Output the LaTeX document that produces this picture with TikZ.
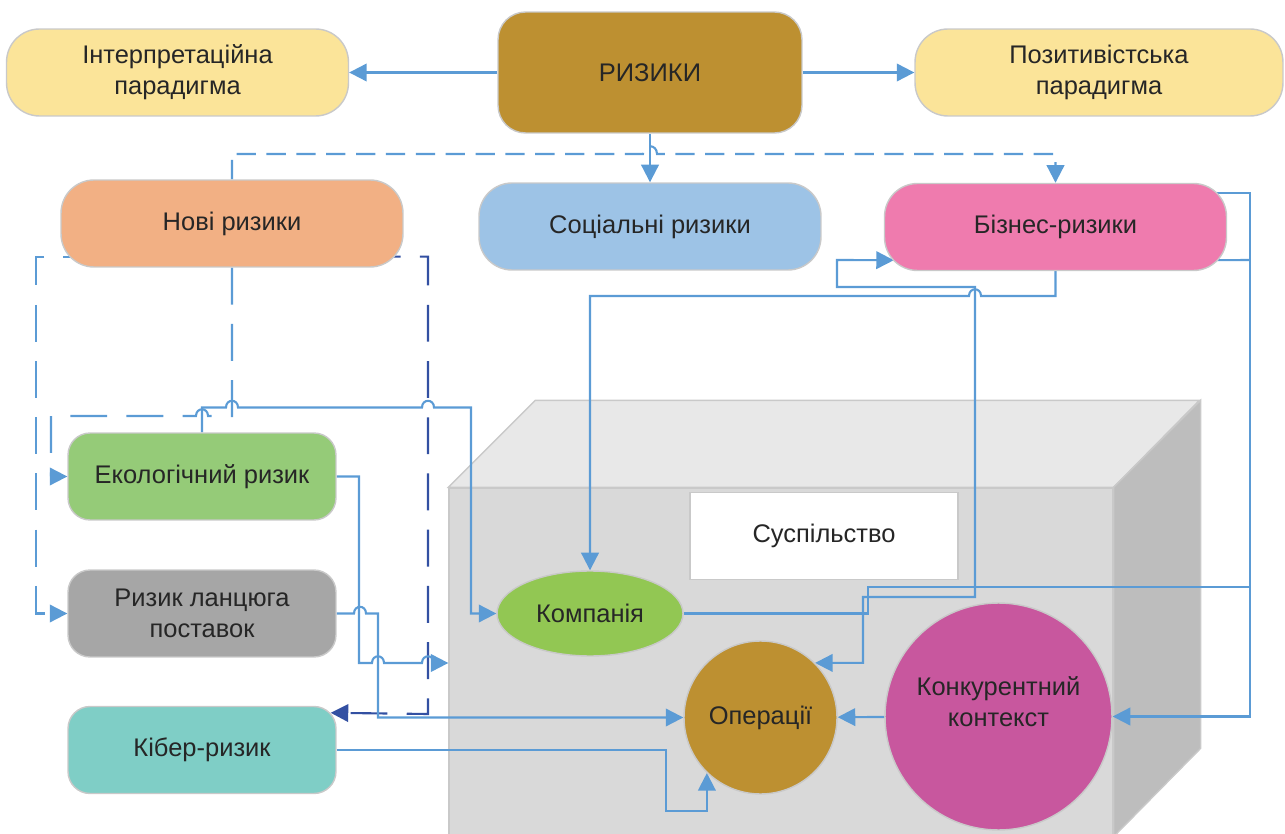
\documentclass[tikz,border=0pt]{standalone}
\usepackage{fontspec}
\setmainfont{Liberation Sans}
\usetikzlibrary{arrows.meta,calc,shapes.geometric}
\pgfdeclarelayer{back}
\pgfsetlayers{back,main}
\definecolor{Ink}{HTML}{262626}
\definecolor{Frame}{HTML}{C9C9C9}
\definecolor{Paradigm}{HTML}{FBE499}
\definecolor{Gold}{HTML}{BD9031}
\definecolor{Peach}{HTML}{F2B084}
\definecolor{Sky}{HTML}{9DC3E6}
\definecolor{Rose}{HTML}{EF7BAE}
\definecolor{Leaf}{HTML}{95CB78}
\definecolor{Ash}{HTML}{A6A6A6}
\definecolor{CyberTeal}{HTML}{7FCEC6}
\definecolor{Lime}{HTML}{92C753}
\definecolor{Plum}{HTML}{C8579E}
\definecolor{Wire}{HTML}{5B9BD5}
\definecolor{WireDark}{HTML}{3350A2}
\definecolor{CubeTop}{HTML}{E8E8E8}
\definecolor{CubeFront}{HTML}{D9D9D9}
\definecolor{CubeSide}{HTML}{BDBDBD}

\begin{document}
\begin{tikzpicture}[x=0.02cm,y=-0.02cm,font=\fontsize{14.5}{17.5}\selectfont,
      pill/.style={rounded corners=0.66cm,draw=Frame,line width=0.8pt,text=Ink,
                   align=center,minimum width=6.84cm,minimum height=1.74cm},
      tile/.style={pill,rounded corners=0.44cm,minimum width=5.36cm},
      hub/.style={circle,draw=Frame,line width=0.8pt,text=Ink,align=center,inner sep=1pt},
      wire/.style={draw=Wire,line width=1.2pt},
      link/.style={wire,-{Triangle[length=10pt,width=10pt]}},
      dashlong/.style={dash pattern=on 21pt off 11pt},
      dashshort/.style={dash pattern=on 11pt off 6pt},
      hop/.style={out=90,in=90,looseness=1.9}]
    \useasboundingbox (0,0) rectangle (1285,834);
    \clip (0,0) rectangle (1285,834);

    % society cube
    \begin{pgfonlayer}{back}
      \node[draw=Frame,fill=CubeFront,line width=0.8pt,
            minimum width=13.28cm,minimum height=6.96cm] (cube) at (781,662) {};
      \draw[draw=Frame,fill=CubeTop,line width=0.8pt]
        (cube.north west) -- ++(87,-87) -- ++(664,0) -- (cube.north east) -- cycle;
      \draw[draw=Frame,fill=CubeSide,line width=0.8pt]
        (cube.north east) -- ++(87,-87) -- ++(0,348) -- (cube.south east) -- cycle;
    \end{pgfonlayer}

    \node[pill,fill=Paradigm] (interp) at (177.5,72.5) {Інтерпретаційна\\парадигма};
    \node[pill,fill=Gold,minimum width=6.08cm,minimum height=2.42cm,
          rounded corners=0.55cm] (risks) at (650,72.5) {РИЗИКИ};
    \node[pill,fill=Paradigm,minimum width=7.36cm] (posit) at (1099,72.5)
      {Позитивістська\\парадигма};
    \node[pill,fill=Peach] (newr) at (232,223.5) {Нові ризики};
    \node[pill,fill=Sky] (social) at (650,226.5) {Соціальні ризики};
    \node[pill,fill=Rose] (business) at (1055.5,227) {Бізнес-ризики};

    \foreach \n/\y/\c/\t in {eco/476.5/Leaf/{Екологічний ризик},
        supply/613.5/Ash/{Ризик ланцюга\\поставок},cyber/750/CyberTeal/{Кібер-ризик}}{%
      \node[tile,fill=\c] (\n) at (202,\y) {\t};
    }

    \node[draw=Frame,line width=0.8pt,fill=white,text=Ink,minimum width=5.36cm,
          minimum height=1.74cm] (society) at (824,536) {Суспільство};
    \node[ellipse,draw=Frame,line width=0.8pt,fill=Lime,text=Ink,inner sep=0pt,
          minimum width=3.72cm,minimum height=1.7cm] (company) at (590,613.5) {Компанія};
    \node[hub,fill=Gold,minimum size=3.06cm] (ops) at (760.5,717.5) {Операції};
    \node[hub,fill=Plum,minimum size=4.54cm,
          label={[align=center,text=Ink,yshift=8.5pt]center:Конкурентний\\контекст}]
      (compet) at (998.5,716.5) {};

    \begin{pgfonlayer}{back}
      \draw[link] (risks) -- (interp);
      \draw[link] (risks) -- (posit);
      \draw[link] (risks) -- (social);
      \draw[link,dashshort] (newr.north) |- (643,154) to[hop] (657,154)
        -| (business.north);

      % dashed links of the new risks
      \draw[link,dashlong] ($(newr.south west)+(40,-11)$) -| (36,613.5) -- (supply.west);
      \draw[link,dashlong] (newr.south) |- (208,416) to[hop] (196,416)
        -| (51,476.5) -- (eco.west);
      \draw[link,dashlong,draw=WireDark] ($(newr.south east)+(-40,-11)$)
        -| (428,714) -- ($(cyber.north east)+(-6,7)$);

      \draw[link] (eco.north) |- (226,407.5) to[hop] (238,407.5) -- (422,407.5)
        to[hop] (434,407.5) -| (471,613.5) -- (company.west);
      \draw[link] (eco.east) -| (359,663) -- (372,663) to[hop] (384,663)
        -- (422,663) to[hop] (434,663) -- (cube.west |- 0,663);
      \draw[link] (supply.east) -- (354,613.5) to[hop] (366,613.5)
        -| (378,717.5) -- (ops.west);
      \draw[link] (cyber.east) -| (666,811) -| (ops.226);

      \draw[link] (business.south) |- (981,296) to[hop] (969,296) -| (company.north);
      \draw[wire,{Triangle[length=10pt,width=10pt]}-{Triangle[length=10pt,width=10pt]}]
        (ops.45) -| (863,597) -| (975,287) -| (837,260)
        -- ($(business.south west)+(10,-11)$);
      \draw[link] ($(business.north east)+(-10,10)$) -| (1250,716.5) -- (compet.east);
      \draw[wire] ($(business.south east)+(-10,-11)$) -- (1250,260);
      \draw[wire] (company.east) -| (868,587) -- (1250,587);
      \draw[link] (compet) -- (ops);
    \end{pgfonlayer}
  \end{tikzpicture}
\end{document}
